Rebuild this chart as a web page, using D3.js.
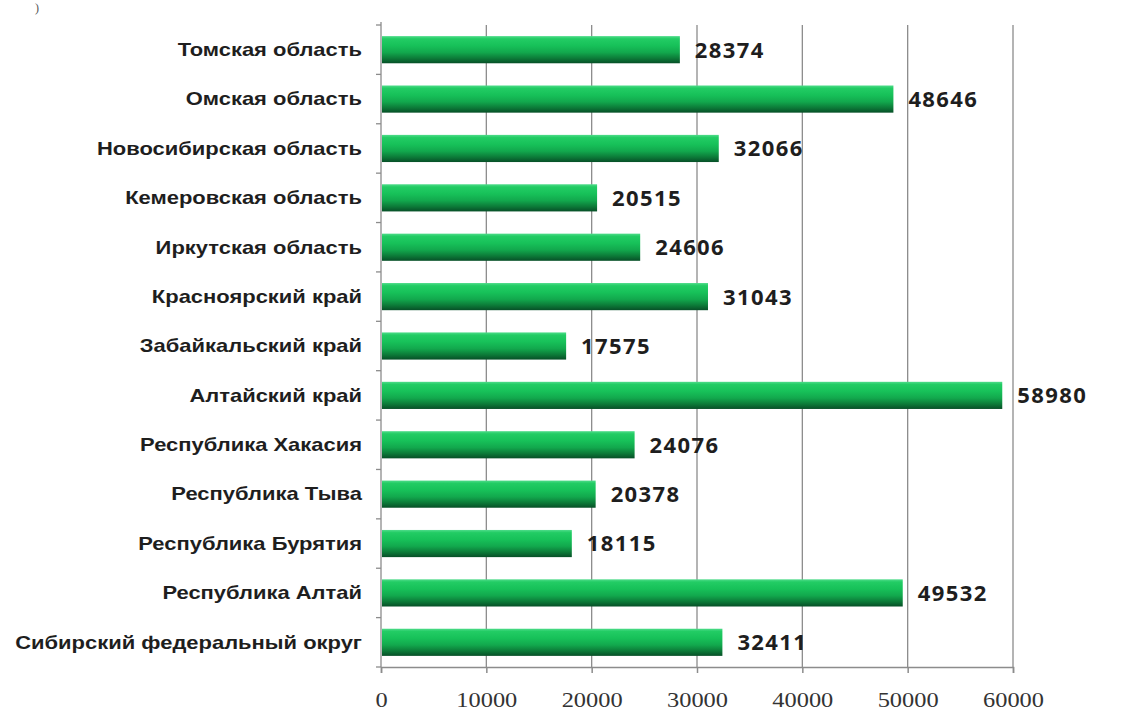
<!DOCTYPE html>
<html>
<head>
<meta charset="utf-8">
<script src="https://cdn.jsdelivr.net/npm/d3@7"></script>
<style>
  html, body { margin: 0; padding: 0; background: #fff; }
  svg { display: block; }
</style>
</head>
<body>
<svg id="chart" width="1139" height="724"></svg>
<script>
// Regions of the Siberian Federal District, top to bottom
const regions = [
  "Томская область",
  "Омская область",
  "Новосибирская область",
  "Кемеровская область",
  "Иркутская область",
  "Красноярский край",
  "Забайкальский край",
  "Алтайский край",
  "Республика Хакасия",
  "Республика Тыва",
  "Республика Бурятия",
  "Республика Алтай",
  "Сибирский федеральный округ"
];
const values = [28374, 48646, 32066, 20515, 24606, 31043, 17575, 58980, 24076, 20378, 18115, 49532, 32411];
const xTicks = [0, 10000, 20000, 30000, 40000, 50000, 60000];

const svg = d3.select("#chart");
const margin = { left: 381, right: 126, top: 25, bottom: 57 };
const W = 1139, H = 724;
const stretch = 1.22; // wide lettering

const x = d3.scaleLinear().domain([0, 60000]).range([margin.left, W - margin.right]);
const y = d3.scaleBand().domain(regions).range([margin.top, H - margin.bottom]).paddingInner(0.45).paddingOuter(0.225);

// Bar fill: cylinder-like vertical gradient
const defs = svg.append("defs");
const grad = defs.append("linearGradient").attr("id", "barGrad")
  .attr("x1", 0).attr("y1", 0).attr("x2", 0).attr("y2", 1);
[["0%", "#4fdc8a"], ["10%", "#22cc64"], ["35%", "#17c159"], ["60%", "#12a84d"], ["82%", "#0c7a38"], ["100%", "#074f27"]]
  .forEach(([o, c]) => grad.append("stop").attr("offset", o).attr("stop-color", c));

// Vertical gridlines
svg.append("g").selectAll("line").data(xTicks.slice(1)).join("line")
  .attr("x1", d => x(d)).attr("x2", d => x(d))
  .attr("y1", margin.top).attr("y2", H - margin.bottom)
  .attr("stroke", "#8c8c8c").attr("stroke-width", 1.3);

// Bottom axis
const xAxis = svg.append("g").attr("transform", `translate(0,${H - margin.bottom})`)
  .call(d3.axisBottom(x).tickValues(xTicks).tickSize(6).tickPadding(0).tickFormat(d3.format("d")));
xAxis.select(".domain").attr("stroke", "#8c8c8c").attr("stroke-width", 1.5);
xAxis.selectAll(".tick line").attr("stroke", "#8c8c8c").attr("stroke-width", 1.5);
xAxis.selectAll(".tick text")
  .attr("y", null).attr("dy", null)
  .attr("transform", `translate(0,40) scale(${stretch},1)`)
  .attr("font-family", "'Liberation Serif', 'Times New Roman', serif")
  .attr("font-size", 20).attr("fill", "#333");

// Left axis line with tick marks at category boundaries
const left = svg.append("g");
left.append("line").attr("x1", margin.left).attr("x2", margin.left)
  .attr("y1", margin.top - 3).attr("y2", H - margin.bottom)
  .attr("stroke", "#8c8c8c").attr("stroke-width", 1.3);
const step = y.step();
const bounds = d3.range(regions.length + 1).map(i => margin.top + i * step);
left.selectAll("line.t").data(bounds).join("line").attr("class", "t")
  .attr("x1", margin.left - 5).attr("x2", margin.left)
  .attr("y1", d => d).attr("y2", d => d)
  .attr("stroke", "#8c8c8c").attr("stroke-width", 1.3);

// Bars
svg.append("g").selectAll("rect").data(values).join("rect")
  .attr("x", x(0) + 1)
  .attr("y", (d, i) => y(regions[i]))
  .attr("width", d => x(d) - x(0) - 1)
  .attr("height", y.bandwidth())
  .attr("fill", "url(#barGrad)");

// Category labels
svg.append("g").selectAll("text").data(regions).join("text")
  .attr("transform", d => `translate(${margin.left - 19},${y(d) + y.bandwidth() / 2}) scale(${stretch},1)`)
  .attr("dy", "0.35em")
  .attr("text-anchor", "end")
  .attr("font-family", "'Liberation Sans', Arial, sans-serif")
  .attr("font-weight", "bold")
  .attr("font-size", 18)
  .attr("fill", "#1e1e1e")
  .text(d => d);

// Value labels
svg.append("g").selectAll("text").data(values).join("text")
  .attr("x", d => x(d) + 15)
  .attr("y", (d, i) => y(regions[i]) + y.bandwidth() / 2)
  .attr("dy", "0.36em")
  .attr("font-family", "'Open Sans', sans-serif")
  .attr("font-weight", "bold")
  .attr("font-size", 22)
  .attr("letter-spacing", 1.4)
  .attr("fill", "#1e1e1e")
  .text(d => d);

// Panel mark at the top-left corner
svg.append("text").attr("x", 35).attr("y", 12)
  .attr("font-family", "'Liberation Serif', serif").attr("font-size", 12).attr("fill", "#555")
  .text(")");
</script>
</body>
</html>
